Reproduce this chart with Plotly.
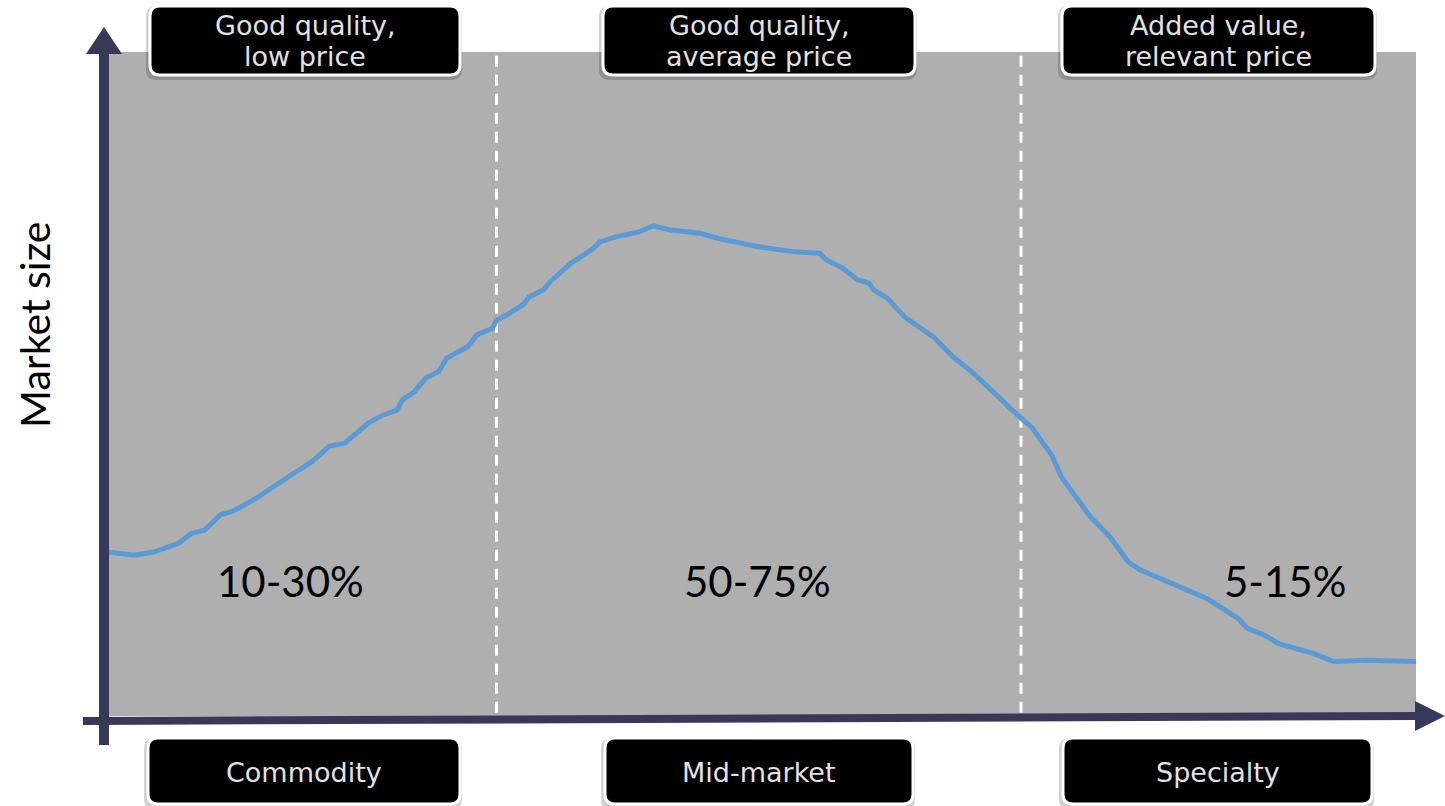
import plotly.graph_objects as go

# ---------------- data ----------------
price_position = [0.0, 2.0, 3.5, 5.4, 6.4, 7.4, 8.6, 9.5, 11.1, 12.8, 14.0, 15.6, 16.9, 18.1,
                  19.9, 21.0, 22.1, 22.5, 23.4, 24.3, 25.3, 25.9, 27.5, 28.2, 29.4, 29.7, 30.5,
                  31.7, 32.2, 33.3, 33.8, 35.4, 37.1, 37.6, 38.9, 40.6, 41.7, 43.0, 45.3,
                  46.7, 49.6, 52.5, 54.4, 54.9, 56.2, 57.3, 58.2, 58.5, 59.6, 60.9, 62.0, 63.1,
                  64.6, 66.0, 67.8, 69.1, 70.7, 72.2, 72.9, 74.0, 75.1, 76.6, 78.0, 78.9, 80.6,
                  81.7, 84.0, 86.4, 87.1, 88.4, 89.5, 92.2, 93.7, 96.2, 98.8, 100.0]
market_size = [24.7, 24.2, 24.7, 26.0, 27.5, 28.0, 30.3, 30.8, 32.5, 34.8, 36.3, 38.3, 40.6, 41.1,
               44.1, 45.3, 46.1, 47.6, 48.8, 50.9, 51.9, 53.9, 55.6, 57.4, 58.4, 59.6, 60.4,
               61.9, 63.1, 64.2, 65.4, 68.2, 70.4, 71.4, 72.2, 72.9, 73.8, 73.2, 72.7,
               71.9, 70.7, 69.9, 69.7, 68.7, 67.4, 65.7, 65.2, 64.2, 62.9, 60.1, 58.6, 57.1,
               54.1, 51.9, 48.6, 46.1, 43.3, 39.1, 36.0, 33.0, 30.0, 27.0, 23.2, 22.0, 20.5,
               19.7, 17.7, 14.7, 13.2, 12.2, 10.9, 9.4, 8.2, 8.4, 8.2, 8.2]

segment_bounds = [29.7, 69.8]
segment_shares = ["10-30%", "50-75%", "5-15%"]
segment_names = ["Commodity", "Mid-market", "Specialty"]
segment_tags = [["Good quality,", "low price"],
                ["Good quality,", "average price"],
                ["Added value,", "relevant price"]]
y_title = "Market size"

# ---------------- layout helpers (pixel -> paper) ----------------
W, H = 1445, 806
L, R, T, B = 108, 29, 52, 90
PW, PH = W - L - R, H - T - B


def X(px):
    return (px - L) / PW


def Y(py):
    return (H - B - py) / PH


def rrect(x0, y0, x1, y1, r):
    pts = [
        ("M", [(x0 + r, y0)]), ("L", [(x1 - r, y0)]), ("Q", [(x1, y0), (x1, y0 + r)]),
        ("L", [(x1, y1 - r)]), ("Q", [(x1, y1), (x1 - r, y1)]), ("L", [(x0 + r, y1)]),
        ("Q", [(x0, y1), (x0, y1 - r)]), ("L", [(x0, y0 + r)]), ("Q", [(x0, y0), (x0 + r, y0)]),
    ]
    s = ""
    for cmd, ps in pts:
        s += cmd + " " + " ".join(f"{X(a):.5f},{Y(b):.5f}" for a, b in ps) + " "
    return s + "Z"


fig = go.Figure()
fig.add_trace(go.Scatter(
    x=price_position, y=market_size, mode="lines",
    line=dict(color="#5b9bd5", width=5, shape="linear"),
    hoverinfo="skip", showlegend=False,
))

shapes = []
# dashed segment dividers
for b in segment_bounds:
    shapes.append(dict(type="line", xref="x", yref="paper", x0=b, x1=b, y0=0.005, y1=1,
                       line=dict(color="white", width=3, dash="11px,8px"), layer="below"))

AX = "#383858"
# y axis arrow
shapes.append(dict(type="line", xref="paper", yref="paper", x0=X(104), x1=X(104),
                   y0=Y(745), y1=Y(50), line=dict(color=AX, width=10)))
shapes.append(dict(type="path", xref="paper", yref="paper",
                   path=f"M {X(104)},{Y(27)} L {X(122)},{Y(54)} L {X(86)},{Y(54)} Z",
                   fillcolor=AX, line=dict(width=0)))
# x axis arrow
shapes.append(dict(type="line", xref="paper", yref="paper", x0=X(83), x1=X(1420),
                   y0=Y(721), y1=Y(716), line=dict(color=AX, width=8)))
shapes.append(dict(type="path", xref="paper", yref="paper",
                   path=f"M {X(1445)},{Y(716)} L {X(1415)},{Y(701)} L {X(1415)},{Y(731)} Z",
                   fillcolor=AX, line=dict(width=0)))

top_boxes = [(150, 460), (603, 915), (1062, 1375)]
bot_boxes = [(148, 460), (605, 913), (1063, 1372)]
for (a, b) in top_boxes:
    shapes.append(dict(type="path", xref="paper", yref="paper", path=rrect(a - 4, 6, b + 2, 80, 11),
                       fillcolor="rgba(0,0,0,0.18)", line=dict(width=0)))
    shapes.append(dict(type="path", xref="paper", yref="paper", path=rrect(a, 6, b, 75, 10),
                       fillcolor="black", line=dict(color="white", width=3)))
for (a, b) in bot_boxes:
    shapes.append(dict(type="path", xref="paper", yref="paper", path=rrect(a - 4, 738, b + 2, 810, 11),
                       fillcolor="rgba(0,0,0,0.18)", line=dict(width=0)))
    shapes.append(dict(type="path", xref="paper", yref="paper", path=rrect(a, 738, b, 804, 10),
                       fillcolor="black", line=dict(color="white", width=3)))

ann = []
box_font = dict(family="DejaVu Sans", size=27, color="#e2e2e2")
for (a, b), lines in zip(top_boxes, segment_tags):
    cx = (a + b) / 2
    ann.append(dict(xref="paper", yref="paper", x=X(cx), y=Y(26), text=lines[0],
                    showarrow=False, xanchor="center", yanchor="middle", font=box_font))
    ann.append(dict(xref="paper", yref="paper", x=X(cx), y=Y(57), text=lines[1],
                    showarrow=False, xanchor="center", yanchor="middle", font=box_font))
for (a, b), name in zip(bot_boxes, segment_names):
    cx = (a + b) / 2
    ann.append(dict(xref="paper", yref="paper", x=X(cx), y=Y(772), text=name,
                    showarrow=False, xanchor="center", yanchor="middle", font=box_font))

share_x = [290, 757, 1285]
for px, txt in zip(share_x, segment_shares):
    ann.append(dict(xref="paper", yref="paper", x=X(px), y=Y(581), text=txt, showarrow=False,
                    xanchor="center", yanchor="middle",
                    font=dict(family="Lato", size=42, color="black")))

ann.append(dict(xref="paper", yref="paper", x=X(34), y=Y(325), text=y_title, showarrow=False,
                textangle=-90, xanchor="center", yanchor="middle",
                font=dict(family="Lato", size=41, color="black")))

fig.update_layout(
    width=W, height=H,
    margin=dict(l=L, r=R, t=T, b=B),
    paper_bgcolor="white", plot_bgcolor="#afafaf",
    xaxis=dict(range=[0, 100], visible=False, fixedrange=True),
    yaxis=dict(range=[0, 100], visible=False, fixedrange=True),
    shapes=shapes, annotations=ann, showlegend=False,
)

fig.write_html("out.html")
